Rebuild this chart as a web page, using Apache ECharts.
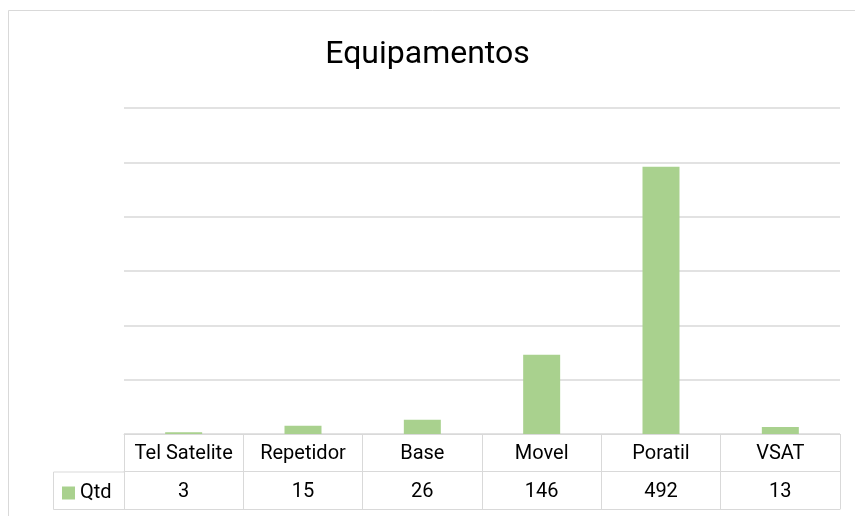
<!DOCTYPE html>
<html>
<head>
<meta charset="utf-8">
<script src="https://cdn.jsdelivr.net/npm/echarts@6/dist/echarts.min.js"></script>
<style>
  html, body { margin: 0; padding: 0; background: #fff; }
  #chart { width: 855px; height: 516px; }
</style>
</head>
<body>
<div id="chart"></div>
<script>
// dados
const categorias = ['Tel Satelite', 'Repetidor', 'Base', 'Movel', 'Poratil', 'VSAT']
const qtd = [3, 15, 26, 146, 492, 13]
const nomeSerie = 'Qtd'

const verde = '#A9D18E'
const cinza = '#D9D9D9'
const fonte = 'Roboto'

// grid / tabela
const gLeft = 124, gRight = 15, gTop = 108, gBottom = 82
const linha = 37.5
const celQtdLeft = 53

const myChart = echarts.init(document.getElementById('chart'))

const baseX = {
  type: 'category',
  position: 'bottom',
  data: categorias,
  axisTick: { show: false },
  axisLabel: { show: false },
  axisLine: { show: true, lineStyle: { color: cinza, width: 1 } }
}

const option = {
  animation: false,
  backgroundColor: '#fff',
  title: {
    text: 'Equipamentos',
    left: 'center',
    top: 34,
    textStyle: { fontFamily: fonte, fontWeight: 'normal', fontSize: 32, color: '#000' }
  },
  legend: {
    left: celQtdLeft + 4,
    top: 478,
    icon: 'rect',
    itemWidth: 13,
    itemHeight: 13,
    textStyle: { fontFamily: fonte, fontSize: 20, color: '#000' },
    data: [nomeSerie]
  },
  grid: { left: gLeft, right: gRight, top: gTop, bottom: gBottom },
  xAxis: [
    Object.assign({}, baseX, {
      axisTick: { show: true, interval: 0, length: linha * 2, lineStyle: { color: cinza } },
      axisLabel: { show: true, interval: 0, margin: 10, fontFamily: fonte, fontSize: 20, color: '#000' }
    }),
    Object.assign({}, baseX, {
      offset: linha,
      data: qtd.map(String),
      axisLabel: { show: true, interval: 0, margin: 10, fontFamily: fonte, fontSize: 20, color: '#000' }
    }),
    Object.assign({}, baseX, { offset: linha * 2 })
  ],
  yAxis: {
    type: 'value',
    min: 0,
    max: 600,
    interval: 100,
    axisLabel: { show: false },
    axisLine: { show: false },
    axisTick: { show: false },
    splitLine: { lineStyle: { color: cinza, width: 1.5 } }
  },
  graphic: [
    {
      // borda do grafico
      type: 'rect',
      shape: { x: 8.5, y: 10.5, width: 900, height: 600 },
      style: { fill: 'none', stroke: cinza, lineWidth: 1 },
      silent: true
    },
    {
      // celula da legenda
      type: 'rect',
      shape: { x: celQtdLeft + 0.5, y: 516 - gBottom + linha + 0.5, width: gLeft - celQtdLeft, height: linha },
      style: { fill: 'none', stroke: cinza, lineWidth: 1 },
      silent: true
    }
  ],
  series: [
    {
      name: nomeSerie,
      type: 'bar',
      xAxisIndex: 0,
      data: qtd,
      barWidth: '31%',
      itemStyle: { color: verde }
    }
  ]
}

myChart.setOption(option)
window.addEventListener('resize', function() {
  myChart.resize()
})
</script>
</body>
</html>
